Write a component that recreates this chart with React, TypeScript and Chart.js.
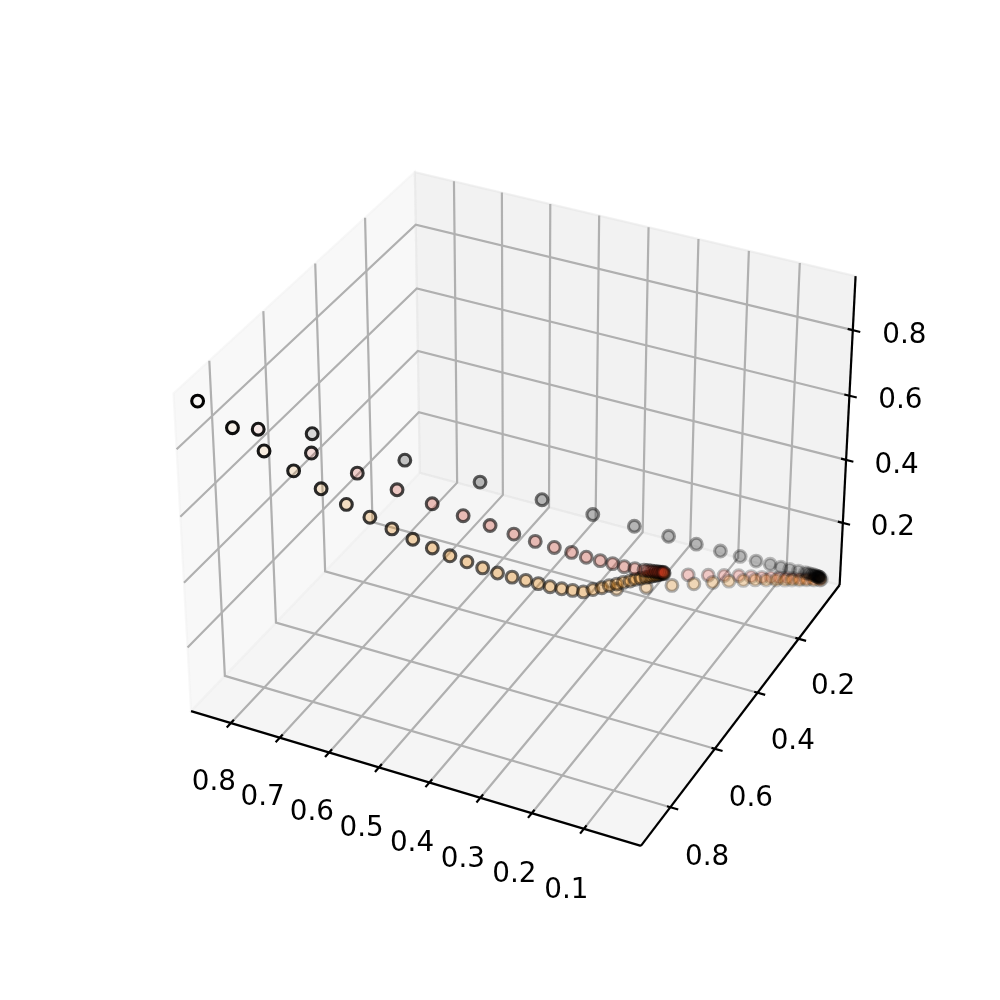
import React, { useEffect, useRef } from "react";
import { Chart, registerables } from "chart.js";
Chart.register(...registerables);

const orangeX = [0.882,0.831,0.784,0.742,0.703,0.668,0.637,0.607,0.578,0.551,0.528,0.506,0.486,0.466,0.448,0.430,0.414,0.398,0.383,0.369,0.355,0.349,0.342,0.337,0.330,0.325,0.319,0.315,0.310,0.305,0.3015,0.2985,0.296,0.294,0.292,0.290,0.288,0.2867];
const orangeY = [0.848,0.819,0.793,0.764,0.736,0.708,0.678,0.651,0.626,0.602,0.577,0.552,0.528,0.507,0.483,0.462,0.442,0.425,0.406,0.388,0.371,0.341,0.316,0.293,0.274,0.255,0.237,0.221,0.207,0.194,0.1856,0.1784,0.1724,0.1676,0.1628,0.1576,0.1528,0.1497];
const orangeZ = [0.88,0.80,0.73,0.665,0.605,0.55,0.50,0.455,0.415,0.38,0.345,0.315,0.285,0.26,0.235,0.215,0.195,0.178,0.162,0.148,0.135,0.12,0.108,0.098,0.09,0.082,0.074,0.068,0.062,0.056,0.053,0.0505,0.0483,0.0466,0.045,0.0432,0.0414,0.0404];
const pinkX = [0.777,0.712,0.657,0.610,0.568,0.530,0.496,0.466,0.439,0.415,0.393,0.373,0.356,0.340,0.325,0.311,0.300,0.2951,0.2908,0.2871,0.2840,0.2815,0.279,0.2766,0.275];
const pinkY = [0.823,0.751,0.684,0.622,0.566,0.517,0.475,0.437,0.402,0.370,0.341,0.319,0.293,0.272,0.252,0.234,0.216,0.2088,0.2025,0.1971,0.1926,0.1890,0.1854,0.1818,0.1795];
const pinkZ = [0.82,0.72,0.63,0.55,0.48,0.42,0.37,0.325,0.285,0.25,0.22,0.195,0.17,0.15,0.13,0.115,0.10,0.0947,0.0900,0.0860,0.0827,0.0800,0.0773,0.0747,0.073];
const grayX = [0.725,0.607,0.509,0.426,0.354,0.296,0.247,0.207,0.172,0.142,0.119,0.099,0.083,0.070,0.057,0.046,0.0413,0.0372,0.0338,0.031,0.029,0.0272,0.0256,0.0246,0.0238,0.0231,0.0226,0.019];
const grayY = [0.722,0.595,0.489,0.401,0.334,0.275,0.227,0.188,0.154,0.129,0.105,0.083,0.068,0.055,0.043,0.034,0.0307,0.0278,0.0255,0.0235,0.022,0.0211,0.0203,0.0198,0.0193,0.019,0.0187,0.018];
const grayZ = [0.75,0.62,0.51,0.42,0.35,0.29,0.24,0.2,0.165,0.14,0.115,0.095,0.08,0.068,0.058,0.05,0.0467,0.0438,0.0415,0.0395,0.037,0.0358,0.0347,0.034,0.0335,0.033,0.0325,0.028];
const pinkTailX = [0.232,0.201,0.177,0.154,0.134,0.117,0.103,0.090,0.078,0.068,0.057,0.046,0.035,0.024];
const pinkTailY = [0.163,0.139,0.119,0.102,0.089,0.077,0.065,0.056,0.047,0.040,0.033,0.026,0.020,0.014];
const pinkTailZ = [0.07,0.062,0.055,0.05,0.045,0.04,0.036,0.033,0.03,0.027,0.025,0.023,0.022,0.02];
const peachTailX = [0.336,0.291,0.253,0.220,0.192,0.168,0.146,0.128,0.110,0.094,0.080,0.069,0.057,0.046,0.034,0.024];
const peachTailY = [0.261,0.225,0.191,0.163,0.138,0.116,0.098,0.083,0.072,0.061,0.052,0.043,0.035,0.026,0.018,0.010];
const peachTailZ = [0.06,0.055,0.05,0.046,0.042,0.038,0.035,0.032,0.03,0.028,0.026,0.024,0.022,0.02,0.018,0.016];

const xTicks = [0.1,0.2,0.3,0.4,0.5,0.6,0.7,0.8];
const yTicks = [0.2,0.4,0.6,0.8];
const zTicks = [0.2,0.4,0.6,0.8];
const xLim = [-0.0084,0.8823], yLim = [-0.0079,0.9281], zLim = [-0.0014,0.9619];
const ELEV = 32.75, AZIM = 116.25;
// view-plane scale limits corresponding to the whole canvas
const SCALE = 4001.53, OX = 522.84, OY = 493.93, SIZE = 1000;

const f = (1.8294640721620434 * 25) / 24 / Math.sqrt(16 + 16 + 9);
const A = 4 * f, C = 3 * f;
const er = (ELEV * Math.PI) / 180, ar = (AZIM * Math.PI) / 180;
const W = [Math.cos(er) * Math.cos(ar), Math.cos(er) * Math.sin(ar), Math.sin(er)];
const E = [A / 2 + 10 * W[0], A / 2 + 10 * W[1], C / 2 + 10 * W[2]];
const nrm = Math.hypot(W[0], W[1]);
const U = [-W[1] / nrm, W[0] / nrm, 0];
const V = [W[1] * U[2] - W[2] * U[1], W[2] * U[0] - W[0] * U[2], W[0] * U[1] - W[1] * U[0]];
const box = (v: number, lim: number[]) => -1 / 48 + ((v - lim[0]) / (lim[1] - lim[0])) * (25 / 24);
function project(x: number, y: number, z: number) {
  const d = [box(x, xLim) * A - E[0], box(y, yLim) * A - E[1], box(z, zLim) * C - E[2]];
  const dot = (p: number[]) => p[0] * d[0] + p[1] * d[1] + p[2] * d[2];
  const zv = -dot(W);
  return { x: dot(U) / zv, y: dot(V) / zv };
}
const line = (pts: number[][], color: string, width: number, order: number) => ({
  type: "scatter" as const,
  showLine: true,
  data: pts.map((p) => project(p[0], p[1], p[2])),
  borderColor: color,
  borderWidth: width,
  pointRadius: 0,
  borderCapStyle: "butt",
  tension: 0,
  order,
});
const [xl, xh] = xLim, [yl, yh] = yLim, [zl, zh] = zLim;
const GRID = "#b0b0b0", AX = "#000000";
const gridSets = [
  ...xTicks.map((t) => line([[t, yh, zl], [t, yl, zl], [t, yl, zh]], GRID, 2.2, 50)),
  ...yTicks.map((t) => line([[xl, t, zl], [xh, t, zl], [xh, t, zh]], GRID, 2.2, 50)),
  ...zTicks.map((t) => line([[xh, yh, t], [xh, yl, t], [xl, yl, t]], GRID, 2.2, 50)),
];
const axisSets = [
  line([[xh, yh, zl], [xl, yh, zl]], AX, 2.2, 40),
  line([[xl, yh, zl], [xl, yl, zl]], AX, 2.2, 40),
  line([[xl, yl, zl], [xl, yl, zh]], AX, 2.2, 40),
  ...xTicks.map((t) => line([[t, yh - 0.0115, zl], [t, yh + 0.0157, zl]], AX, 2.2, 40)),
  ...yTicks.map((t) => line([[xl + 0.0065, t, zl], [xl - 0.015, t, zl]], AX, 2.2, 40)),
  ...zTicks.map((t) => line([[xl + 0.01, yl, t], [xl - 0.0145, yl, t]], AX, 2.2, 40)),
];
const uLeft = project(xh, yh, zl).x, uRight = project(xl, yl, zl).x;
const along = (u: number) => Math.max(0, Math.min(1, (u - uLeft) / (uRight - uLeft)));
const fillOf = (rgb: string, peak: number) => (ctx: any) => {
  const t = along(ctx.parsed?.x ?? 0);
  return `rgba(${rgb},${(0.01 + peak * Math.min(1, t / 0.38)).toFixed(3)})`;
};
const edgeOf = (scale: number) => (ctx: any) =>
  `rgba(0,0,0,${(scale * (1 - 0.85 * along(ctx.parsed?.x ?? 0))).toFixed(3)})`;
const marks = (xs: number[], ys: number[], zs: number[], rgb: string, peak: number, edge: number, order: number) => ({
  type: "scatter" as const,
  data: xs.map((x, i) => project(x, ys[i], zs[i])),
  pointRadius: 5.9,
  pointBorderWidth: 3.1,
  pointBackgroundColor: fillOf(rgb, peak),
  pointBorderColor: edgeOf(edge),
  order,
});
const panes = [
  { corners: [[xh, yh, zl], [xh, yl, zl], [xl, yl, zl], [xl, yh, zl]], color: "rgba(236,236,236,0.5)" },
  { corners: [[xh, yh, zl], [xh, yl, zl], [xh, yl, zh], [xh, yh, zh]], color: "rgba(242,242,242,0.5)" },
  { corners: [[xh, yl, zl], [xl, yl, zl], [xl, yl, zh], [xh, yl, zh]], color: "rgba(230,230,230,0.5)" },
];
const labels = [
  ...xTicks.map((t) => ({ text: t.toFixed(1), at: [t, yh + 0.072, zl - 0.13], shift: -1 })),
  ...yTicks.map((t) => ({ text: t.toFixed(1), at: [xl - 0.072, t, zl - 0.107], shift: 5.5 })),
  ...zTicks.map((t) => ({ text: t.toFixed(1), at: [xl - 0.086, yl - 0.037, t], shift: 3.5 })),
];
const boxPlugin = {
  id: "box3d",
  beforeDatasetsDraw(chart: any) {
    const { ctx, scales } = chart;
    ctx.save();
    for (const p of panes) {
      ctx.beginPath();
      p.corners.forEach((c: number[], i: number) => {
        const q = project(c[0], c[1], c[2]);
        const a = scales.x.getPixelForValue(q.x), b = scales.y.getPixelForValue(q.y);
        if (i) ctx.lineTo(a, b); else ctx.moveTo(a, b);
      });
      ctx.closePath();
      ctx.fillStyle = p.color;
      ctx.fill();
      ctx.strokeStyle = p.color;
      ctx.lineWidth = 2.2;
      ctx.stroke();
    }
    ctx.fillStyle = "#000";
    ctx.font = "27.8px 'DejaVu Sans'";
    ctx.textAlign = "center";
    ctx.textBaseline = "middle";
    for (const l of labels) {
      const q = project(l.at[0], l.at[1], l.at[2]);
      ctx.fillText(l.text, scales.x.getPixelForValue(q.x), scales.y.getPixelForValue(q.y) + l.shift);
    }
    ctx.restore();
  },
};

export default function App() {
  const ref = useRef<HTMLCanvasElement>(null);
  useEffect(() => {
    document.body.style.margin = "0";
    document.body.style.background = "#fff";
    const chart = new Chart(ref.current as HTMLCanvasElement, {
      type: "scatter",
      data: {
        datasets: [
          ...gridSets,
          ...axisSets,
          marks(pinkTailX, pinkTailY, pinkTailZ, "220,50,40", 0.22, 0.85, 5),
          marks(peachTailX, peachTailY, peachTailZ, "230,140,30", 0.28, 0.85, 4),
          marks(orangeX, orangeY, orangeZ, "230,140,30", 0.37, 1, 3),
          marks(pinkX, pinkY, pinkZ, "200,50,30", 0.29, 1, 2),
          marks(grayX, grayY, grayZ, "0,0,0", 0.24, 1, 1),
        ] as any,
      },
      options: {
        animation: false,
        responsive: false,
        devicePixelRatio: 1,
        layout: { padding: 0, autoPadding: false },
        plugins: { legend: { display: false }, tooltip: { enabled: false } },
        scales: {
          x: { type: "linear", display: false, min: -OX / SCALE, max: (SIZE - OX) / SCALE },
          y: { type: "linear", display: false, min: (OY - SIZE) / SCALE, max: OY / SCALE },
        },
      },
      plugins: [boxPlugin],
    });
    return () => chart.destroy();
  }, []);
  return <canvas ref={ref} width={SIZE} height={SIZE} style={{ display: "block" }} />;
}
